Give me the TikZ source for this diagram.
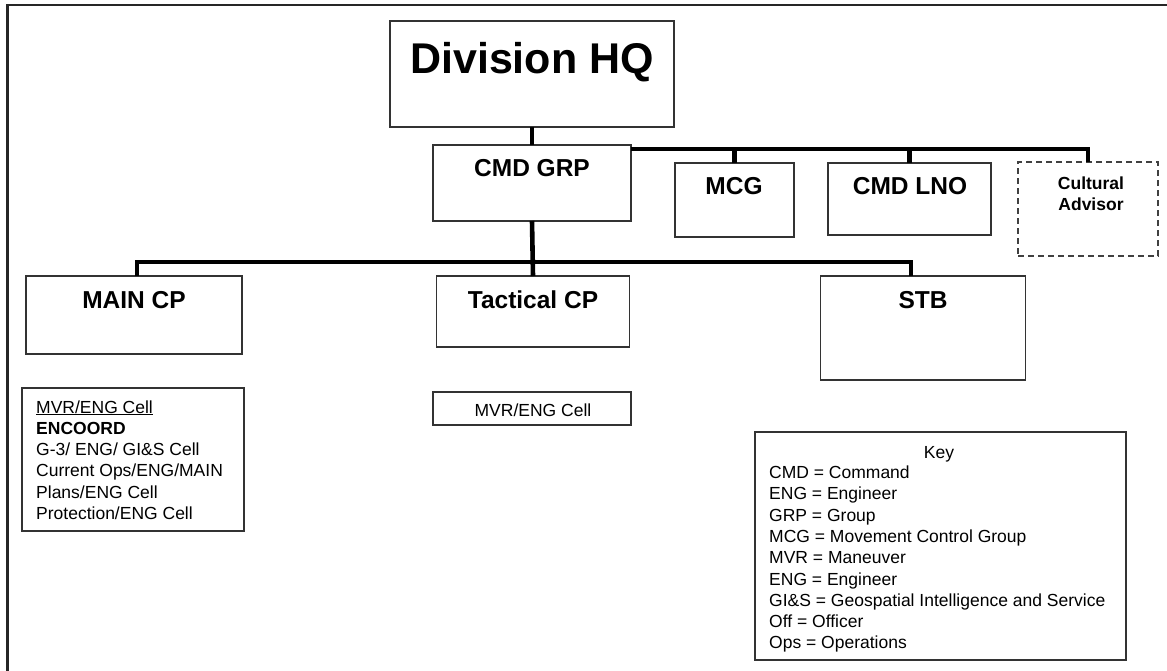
\documentclass[tikz,border=0pt]{standalone}
\usepackage{fontspec}
\setmainfont{Liberation Sans}
\begin{document}
\begin{tikzpicture}[x=1pt,y=-1pt,
  box/.style={draw=black!80,line width=1.8pt,fill=white,inner sep=0pt,outer sep=0pt},
  dbox/.style={draw=black!75,line width=1.8pt,dash pattern=on 6pt off 4pt,inner sep=0pt,outer sep=0pt},
  conn/.style={line width=4.6pt,black},
  hdr/.style={inner sep=0pt,anchor=base,font=\fontsize{24.5}{29}\selectfont\bfseries},
  lst/.style={inner sep=0pt,anchor=north west,align=left,font=\fontsize{17.5}{21.3}\selectfont},
  frame/.style={line width=2.4pt,black!85}]
\useasboundingbox (0,0) rectangle (1167,670);
\fill[white] (0,0) rectangle (1167,670);
% outer frame (only top and left edges are inside the page)
\coordinate (fbl) at (7.5,700);
\coordinate (ftl) at (7.5,5);
\coordinate (ftr) at (1200,5);
\draw[frame] (fbl) -- (ftl) -- (ftr);

% --- boxes ---
\node[box,minimum width=284,minimum height=106] (hq)   at (532,74)  {};
\node[box,minimum width=198,minimum height=76]  (cmd)  at (532,183) {};
\node[box,minimum width=119,minimum height=74]  (mcg)  at (734.5,200) {};
\node[box,minimum width=163,minimum height=72]  (lno)  at (909.5,199) {};
\node[dbox,minimum width=140,minimum height=94] (cult) at (1088,209) {};
\node[box,minimum width=216,minimum height=78]  (main) at (134,315) {};
\node[box,minimum width=193,minimum height=71]  (tac)  at (533,311.5) {};
\node[box,minimum width=205,minimum height=104] (stb)  at (923,328) {};
\node[box,minimum width=222,minimum height=143] (mlist) at (133,459.5) {};
\node[box,minimum width=198,minimum height=33]  (tcell) at (532,408.5) {};
\node[box,minimum width=371,minimum height=228] (key)  at (940.5,546) {};

% --- titles ---
\node[hdr,font=\fontsize{43}{50}\selectfont\bfseries] (hqt) at (532,73) {Division HQ};
\node[hdr] (cmdt)  at (532,176) {CMD GRP};
\node[hdr] (mcgt)  at (734,194) {MCG};
\node[hdr] (lnot)  at (910,194) {CMD LNO};
\node[inner sep=0pt,anchor=base,align=center,font=\fontsize{17.5}{21}\selectfont\bfseries] (cultt) at (1091,210) {Cultural\\Advisor};
\node[hdr] (maint) at (134,308) {MAIN CP};
\node[hdr] (tact)  at (533,308) {Tactical CP};
\node[hdr] (stbt)  at (923,308) {STB};

% --- cell lists ---
\node[lst] (mlistt) at (36,400.2) {\underline{MVR/ENG Cell}\\\textbf{ENCOORD}\\G-3/ ENG/ GI\&S Cell\\Current Ops/ENG/MAIN\\Plans/ENG Cell\\Protection/ENG Cell};
\node[inner sep=0pt,anchor=base,font=\fontsize{17.5}{21}\selectfont] (tcellt) at (533,416) {MVR/ENG Cell};

% --- key ---
\node[inner sep=0pt,anchor=base,font=\fontsize{17.5}{21}\selectfont] (keyt) at (939,458) {Key};
\node[lst] (keyl) at (769,465.7) {CMD = Command\\ENG = Engineer\\GRP = Group\\MCG = Movement Control Group\\MVR = Maneuver\\ENG = Engineer\\GI\&S = Geospatial Intelligence and Service\\Off = Officer\\Ops = Operations};

% --- connectors ---
\draw[conn] (hq.south) -- (cmd.north);
\coordinate (topbar) at ([yshift=-4pt]cmd.north east);
\draw[conn] (topbar) -| (cult.north);
\draw[conn] (mcg.north) -- (mcg.north |- topbar);
\draw[conn] (lno.north) -- (lno.north |- topbar);
\coordinate (hub) at (532,262);
\draw[conn] (cmd.south) -- (tac.north);
\draw[conn] ([xshift=3pt]main.north) |- (hub) -| ([xshift=-12pt]stb.north);
\end{tikzpicture}
\end{document}
